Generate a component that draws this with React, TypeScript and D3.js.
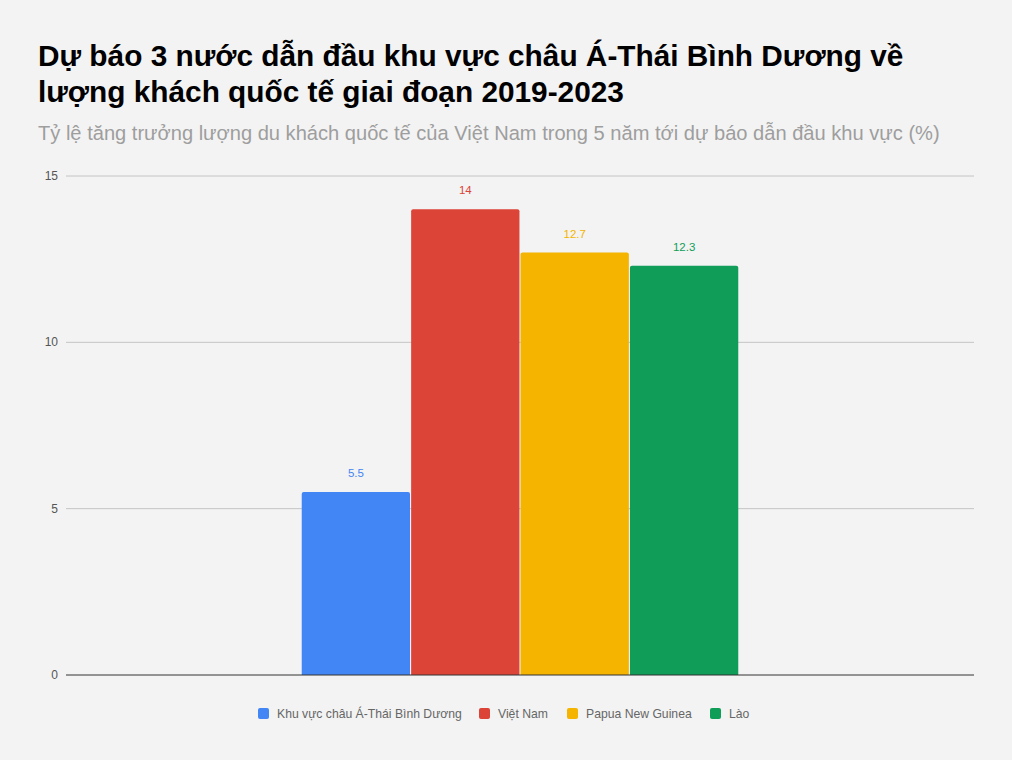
import * as d3 from 'd3';
import * as React from 'react';

const categories = ['Khu vực châu Á-Thái Bình Dương', 'Việt Nam', 'Papua New Guinea', 'Lào'];
const values = [5.5, 14, 12.7, 12.3];
const colors = ['#4285f4', '#db4437', '#f4b400', '#0f9d58'];
const yTicks = [0, 5, 10, 15];

const title1 = 'Dự báo 3 nước dẫn đầu khu vực châu Á-Thái Bình Dương về';
const title2 = 'lượng khách quốc tế giai đoạn 2019-2023';
const subtitle = 'Tỷ lệ tăng trưởng lượng du khách quốc tế của Việt Nam trong 5 năm tới dự báo dẫn đầu khu vực (%)';

const width = 1012;
const height = 760;
const plot = {left: 66, right: 974, top: 176, bottom: 675};
const font = '"Liberation Sans", Arial, sans-serif';

export default function App() {
    const y = d3.scaleLinear().domain([0, 15]).range([plot.bottom, plot.top]);

    // one group centred in the plot, bars touch with a 1px gap
    const group = d3.scaleBand<number>()
        .domain([0])
        .range([plot.left, plot.right])
        .paddingInner(0)
        .paddingOuter(0.54);
    const inner = d3.scaleBand<string>()
        .domain(categories)
        .range([0, group.bandwidth()])
        .paddingInner(0.01);

    const legendX = [258, 479, 567, 710];

    return (
        <svg width={width} height={height} style={{position: 'absolute', left: 0, top: 0, fontFamily: font}}>
            <rect width={width} height={height} fill='#f3f3f3' />
            <text x={38} y={66} fontSize={29.8} fontWeight='bold' fill='#000'>{title1}</text>
            <text x={38} y={102} fontSize={29.8} fontWeight='bold' fill='#000'>{title2}</text>
            <text x={38} y={140} fontSize={20.1} fill='#9e9e9e'>{subtitle}</text>

            <g className='y-axis'>
                {yTicks.map((t) => (
                    <g key={t} transform={`translate(0,${y(t)})`}>
                        {t !== 0 && (
                            <line x1={plot.left} x2={plot.right} stroke='#c4c4c4' strokeWidth={1} />
                        )}
                        <text x={58} y={4} textAnchor='end' fontSize={12} fill='#555'>{t}</text>
                    </g>
                ))}
            </g>

            <g className='bars'>
                {categories.map((c, i) => {
                    const x0 = (group(0) as number) + (inner(c) as number);
                    const w = inner.bandwidth();
                    const top = y(values[i]);
                    const r = 2;
                    const d = `M${x0},${plot.bottom}V${top + r}Q${x0},${top} ${x0 + r},${top}H${x0 + w - r}Q${x0 + w},${top} ${x0 + w},${top + r}V${plot.bottom}Z`;
                    return (
                        <g key={c}>
                            <path d={d} fill={colors[i]} />
                            <text x={x0 + w / 2} y={top - 15} textAnchor='middle' fontSize={11.5} fill={colors[i]}>
                                {values[i]}
                            </text>
                        </g>
                    );
                })}
            </g>

            <line x1={plot.left} x2={plot.right} y1={plot.bottom} y2={plot.bottom} stroke='#333' strokeWidth={1} />

            <g className='legend'>
                {categories.map((c, i) => (
                    <g key={c} transform={`translate(${legendX[i]},714)`}>
                        <rect x={0} y={-6} width={11} height={11} rx={2} fill={colors[i]} />
                        <text x={19} y={4} fontSize={12.2} fill='#666'>{c}</text>
                    </g>
                ))}
            </g>
        </svg>
    );
}
